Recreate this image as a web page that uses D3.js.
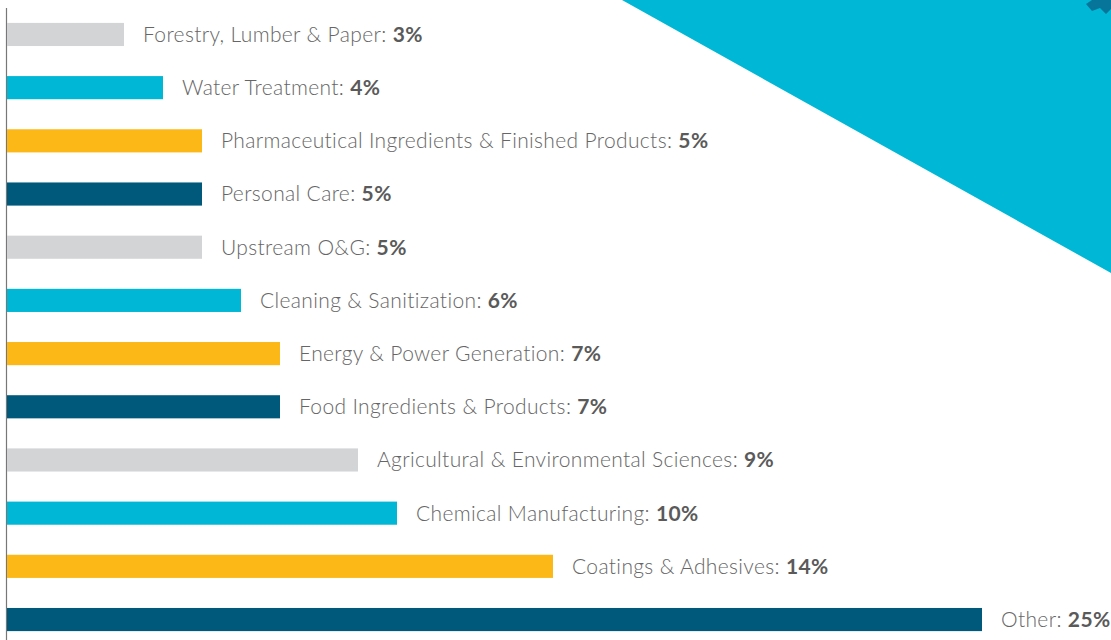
<!DOCTYPE html>
<html>
<head>
<meta charset="utf-8">
<script src="https://cdn.jsdelivr.net/npm/d3@7"></script>
<style>
  body { margin: 0; background: #fff; }
  svg { display: block; }
</style>
</head>
<body>
<div class="chart"></div>
<script>
var width = 1111;
var height = 640;

// data, top to bottom
var categories = [
  'Forestry, Lumber & Paper',
  'Water Treatment',
  'Pharmaceutical Ingredients & Finished Products',
  'Personal Care',
  'Upstream O&G',
  'Cleaning & Sanitization',
  'Energy & Power Generation',
  'Food Ingredients & Products',
  'Agricultural & Environmental Sciences',
  'Chemical Manufacturing',
  'Coatings & Adhesives',
  'Other'
];
var shares = [3, 4, 5, 5, 5, 6, 7, 7, 9, 10, 14, 25];
var palette = ['#d3d4d6', '#00b8d6', '#fbb817', '#00587a'];

var data = categories.map(function(c, i){
  return { name: c, value: shares[i], color: palette[i % 4] };
});

var svg = d3.select('.chart')
  .append('svg')
  .attr('width', width)
  .attr('height', height);

// cyan corner triangle
svg.append('path')
  .attr('d', 'M622,0 L1111,0 L1111,273 Z')
  .attr('fill', '#00b8d6');

// bit of the logo peeking in the corner
svg.append('path')
  .attr('d', 'M1086,4 L1092,0 L1111,0 L1111,9 L1106,14 L1100,8 L1092,11 Z')
  .attr('fill', '#0a5f85')
  .attr('opacity', 0.75);

var x = d3.scaleLinear()
  .domain([0, 25])
  .range([7, 982]);

var y = d3.scaleBand()
  .domain(categories)
  .range([8, 646])
  .paddingInner(0.565)
  .paddingOuter(0.28);

// left axis line
svg.append('line')
  .attr('x1', 6.5).attr('x2', 6.5)
  .attr('y1', 8).attr('y2', height)
  .attr('stroke', '#777')
  .attr('stroke-width', 1.2);

svg.selectAll('.bar')
  .data(data)
  .enter().append('rect')
  .attr('class', 'bar')
  .attr('x', x(0))
  .attr('y', function(d){ return y(d.name); })
  .attr('width', function(d){ return x(d.value) - x(0); })
  .attr('height', y.bandwidth())
  .attr('fill', function(d){ return d.color; });

var labels = svg.selectAll('.lbl')
  .data(data)
  .enter().append('text')
  .attr('class', 'lbl')
  .attr('x', function(d){ return x(d.value) + 19; })
  .attr('y', function(d){ return y(d.name) + y.bandwidth() / 2; })
  .attr('dy', '0.35em')
  .attr('font-family', 'Lato, "Open Sans", sans-serif')
  .attr('font-size', 21)
  .attr('letter-spacing', 0.35)
  .attr('fill', '#666');

labels.append('tspan')
  .attr('font-weight', 300)
  .text(function(d){ return d.name + ': '; });

labels.append('tspan')
  .attr('font-weight', 700)
  .attr('fill', '#5a5a5a')
  .text(function(d){ return d.value + '%'; });
</script>
</body>
</html>
